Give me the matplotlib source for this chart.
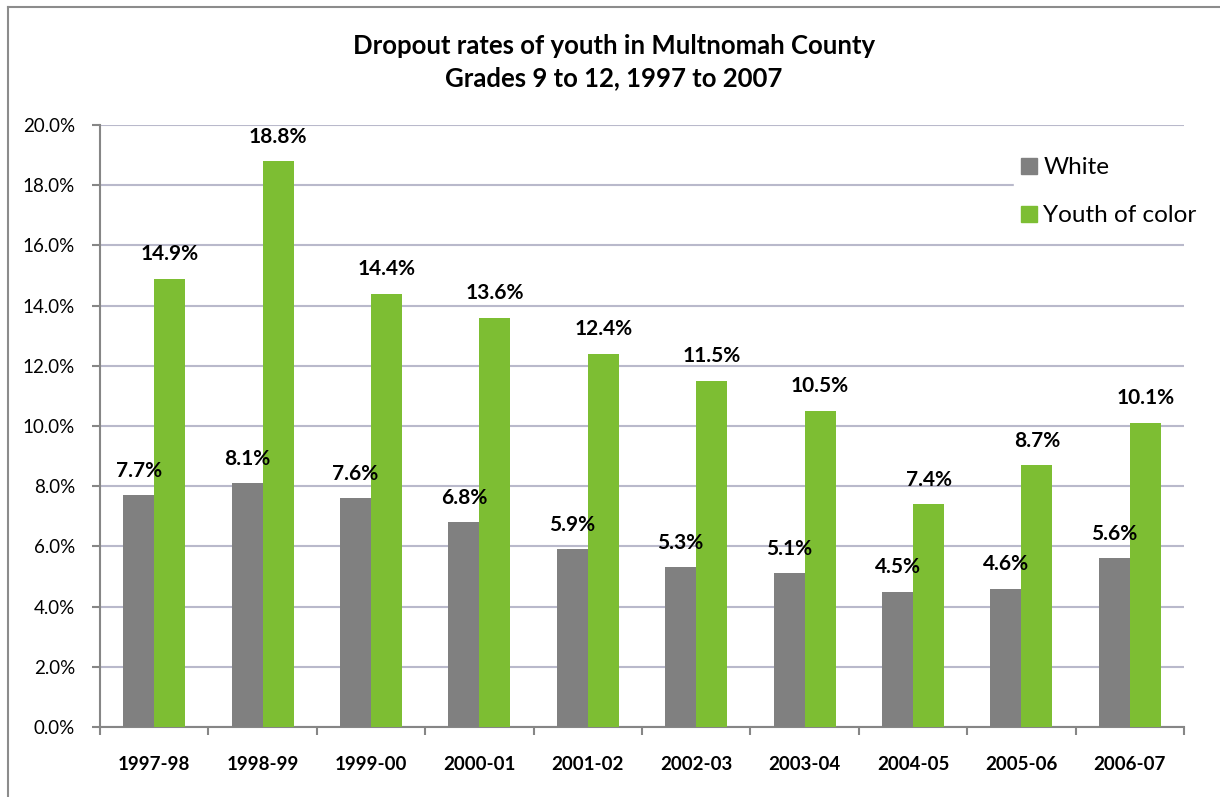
import numpy as np
import matplotlib
matplotlib.use('Agg')
import matplotlib.pyplot as plt
from matplotlib.lines import Line2D
from matplotlib.ticker import FuncFormatter, FixedLocator, NullFormatter

plt.rcParams['font.family'] = ['Lato', 'DejaVu Sans']

years = ['1997-98', '1998-99', '1999-00', '2000-01', '2001-02',
         '2002-03', '2003-04', '2004-05', '2005-06', '2006-07']
white = [7.7, 8.1, 7.6, 6.8, 5.9, 5.3, 5.1, 4.5, 4.6, 5.6]
color_youth = [14.9, 18.8, 14.4, 13.6, 12.4, 11.5, 10.5, 7.4, 8.7, 10.1]

grey = '#808080'
green = '#7DBE33'
axis_col = '#868686'
grid_col = '#B9B9CB'

fig = plt.figure(figsize=(12.2, 7.97), dpi=100)
ax = fig.add_axes([100 / 1220, 1 - 727 / 797, 1084 / 1220, 602 / 797])

x = np.arange(len(years))
w = 0.286
b1 = ax.bar(x - w / 2, white, w, color=grey, label='White', zorder=3)
b2 = ax.bar(x + w / 2, color_youth, w, color=green, label='Youth of color', zorder=3)

for bars, vals in [(b1, white), (b2, color_youth)]:
    for r, v in zip(bars, vals):
        ax.annotate(f'{v:.1f}%', (r.get_x() + r.get_width() / 2, v),
                    xytext=(0, 10.5), textcoords='offset points',
                    ha='center', va='bottom', fontsize=15, fontweight='bold',
                    zorder=4)

ax.set_xlim(-0.5, len(years) - 0.5)
ax.set_ylim(0, 20)
ax.set_yticks(np.arange(0, 20.1, 2))
ax.yaxis.set_major_formatter(FuncFormatter(lambda v, p: f'{v:.1f}%'))
ax.yaxis.grid(True, color=grid_col, linewidth=1.5, zorder=0)

ax.xaxis.set_major_locator(FixedLocator(np.arange(-0.5, len(years), 1)))
ax.xaxis.set_major_formatter(NullFormatter())
ax.xaxis.set_minor_locator(FixedLocator(x))
ax.set_xticklabels(years, minor=True, fontweight='bold', fontsize=13.5)
ax.tick_params(axis='x', which='minor', length=0, pad=21)
ax.tick_params(axis='x', which='major', length=6, width=1.5, color=axis_col)
ax.tick_params(axis='y', length=6, width=1.5, color=axis_col, labelsize=13.5, pad=12)

for s in ['top', 'right']:
    ax.spines[s].set_visible(False)
for s in ['left', 'bottom']:
    ax.spines[s].set_color(axis_col)
    ax.spines[s].set_linewidth(1.5)

handles = [Line2D([], [], marker='s', linestyle='', markersize=11, color=grey),
           Line2D([], [], marker='s', linestyle='', markersize=11, color=green)]
leg = ax.legend(handles, ['White', 'Youth of color'], loc='upper left',
                bbox_to_anchor=(1014 / 1220, 1 - 150 / 797), bbox_transform=fig.transFigure,
                frameon=True, fontsize=17.5, handlelength=0.6, handletextpad=0.3,
                labelspacing=1.1, borderpad=0.3, borderaxespad=0)
leg.get_frame().set_edgecolor('white')
leg.get_frame().set_facecolor('white')
leg.get_frame().set_alpha(1)
leg.set_zorder(5)

fig.text(614 / 1220, 1 - 46 / 797, 'Dropout rates of youth in Multnomah County',
         ha='center', va='center', fontsize=18.5, fontweight='bold')
fig.text(614 / 1220, 1 - 78 / 797, 'Grades 9 to 12, 1997 to 2007',
         ha='center', va='center', fontsize=18.5, fontweight='bold')

# outer chart border (left and top visible)
fig.add_artist(Line2D([8 / 1220, 8 / 1220], [0, 1 - 7 / 797], color='#8C8C8C',
                      linewidth=1.5, transform=fig.transFigure))
fig.add_artist(Line2D([8 / 1220, 1], [1 - 7 / 797, 1 - 7 / 797], color='#8C8C8C',
                      linewidth=1.5, transform=fig.transFigure))

fig.savefig('out.png', dpi=100)
